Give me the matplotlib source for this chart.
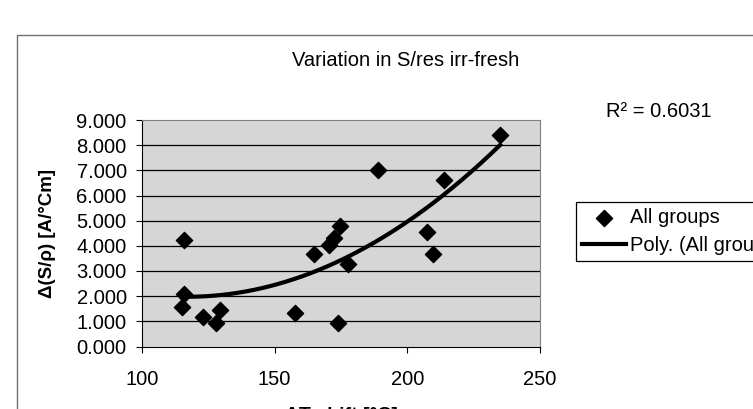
import numpy as np
import matplotlib
matplotlib.use('Agg')
import matplotlib.pyplot as plt
from matplotlib.patches import Rectangle

plt.rcParams['font.family'] = ['Liberation Sans', 'DejaVu Sans']

# data
shift = [115, 116, 116, 123, 128, 129.5, 157.5, 165, 170.5, 172.5, 174.5, 174, 177.5,
         189, 207.5, 209.5, 214, 235]
dsrho = [1.57, 4.25, 2.08, 1.17, 0.93, 1.45, 1.33, 3.68, 4.05, 4.3, 4.8, 0.92, 3.27,
         7.02, 4.53, 3.66, 6.6, 8.42]
r2_text = 'R² = 0.6031'
title = 'Variation in S/res irr-fresh'
yticks = [0, 1, 2, 3, 4, 5, 6, 7, 8, 9]
xticks = [100, 150, 200, 250]

W, H = 753, 409
fig = plt.figure(figsize=(W / 100, H / 100), dpi=100)
ax = fig.add_axes([142 / W, 1 - 346.5 / H, 398 / W, 226.5 / H])

# outer chart frame (cut off on right and bottom in the scan)
fig.add_artist(Rectangle((17 / W, -0.2), 1.2, 1 - 35 / H + 0.2, transform=fig.transFigure,
                         fill=False, edgecolor='#707070', linewidth=1.0))

ax.set_facecolor('#d6d6d6')
for v in yticks[1:-1]:
    ax.axhline(v, color='black', linewidth=0.9, zorder=1)

ax.scatter(shift, dsrho, marker='D', s=68, color='black', zorder=3, label='All groups')

# 2nd order poly trend line
coef = np.polyfit(shift, dsrho, 2)
xs = np.linspace(min(shift), max(shift), 200)
ax.plot(xs, np.polyval(coef, xs), color='black', linewidth=3, zorder=2,
        label='Poly. (All groups)')

ax.set_xlim(100, 250)
ax.set_ylim(0, 9)
ax.set_xticks(xticks)
ax.set_yticks(yticks)
ax.set_yticklabels([f'{v:.3f}' for v in yticks])
ax.tick_params(axis='x', length=4, pad=13, labelsize=14.5, direction='out')
ax.tick_params(axis='y', length=4, pad=7, labelsize=14.5, direction='out')
for s in ['left', 'bottom']:
    ax.spines[s].set_color('black')
for s in ['top', 'right']:
    ax.spines[s].set_color('#808080')

ax.set_ylabel('Δ(S/ρ) [A/°Cm]', fontsize=13.5, fontweight='bold')
ax.yaxis.set_label_coords((56 - 142) / 398, 0.5)

fig.text(406 / W, 1 - 60 / H, title, ha='center', va='center', fontsize=14.5)
fig.text(606 / W, 1 - 112 / H, r2_text, ha='left', va='center', fontsize=14.5)
fig.text(341 / W, 1 - 407 / H, 'ΔT shift [°C]', ha='center', va='top', fontsize=14,
         fontweight='bold')

leg = ax.legend(loc='upper left', bbox_to_anchor=(576 / W, 1 - 202 / H),
                bbox_transform=fig.transFigure, borderaxespad=0, fontsize=14.5,
                frameon=True, fancybox=False, edgecolor='black', framealpha=1,
                handlelength=2.2, handletextpad=0.2, labelspacing=0.45, borderpad=0.3)
leg.get_frame().set_linewidth(0.9)

fig.savefig('out.png', dpi=100)
